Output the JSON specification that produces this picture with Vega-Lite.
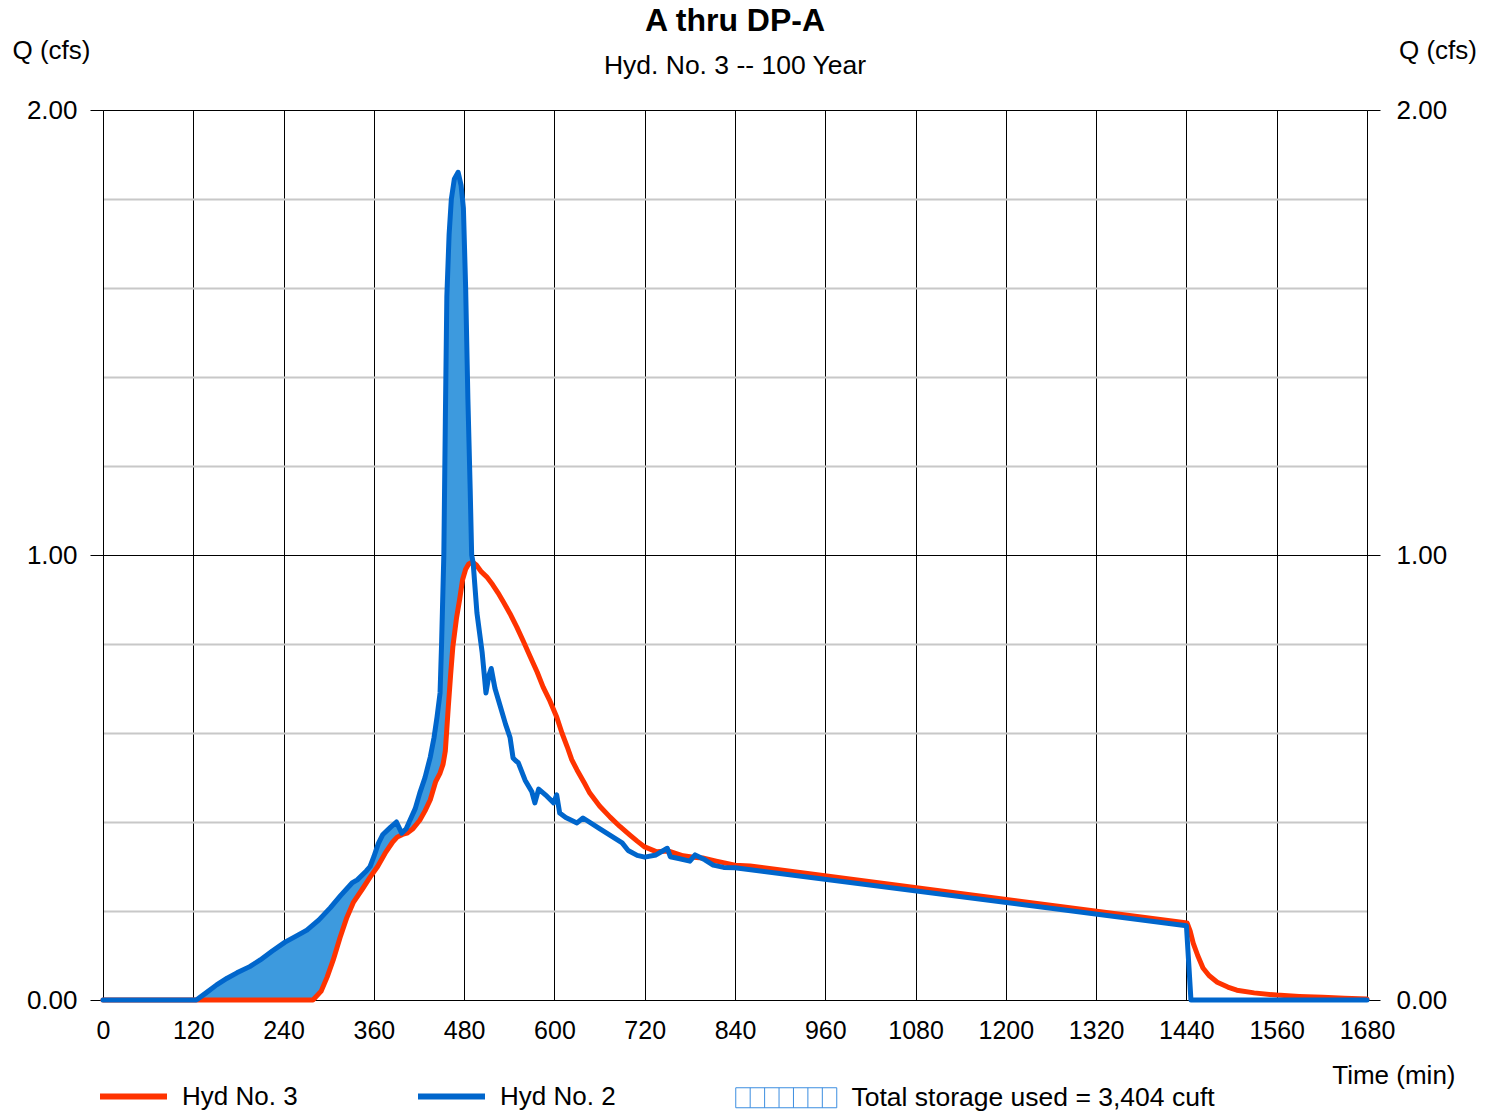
{
  "$schema": "https://vega.github.io/schema/vega-lite/v6.json",
  "width": 1264,
  "height": 890,
  "autosize": {"type": "none"},
  "padding": {"left": 103, "top": 110, "right": 127, "bottom": 112},
  "background": "white",
  "title": {
    "text": "A thru DP-A",
    "subtitle": "Hyd. No. 3 -- 100 Year",
    "anchor": "middle",
    "frame": "group",
    "font": "Liberation Sans",
    "fontSize": 32,
    "fontWeight": "bold",
    "color": "#000000",
    "subtitleFont": "Liberation Sans",
    "subtitleFontSize": 26.5,
    "subtitleColor": "#000000",
    "subtitlePadding": 15,
    "offset": -43
  },
  "datasets": {
    "hyd": [
      {"series": "Hyd No. 3", "t": 0, "q": 0},
      {"series": "Hyd No. 3", "t": 279, "q": 0},
      {"series": "Hyd No. 3", "t": 290, "q": 0.02},
      {"series": "Hyd No. 3", "t": 298, "q": 0.052},
      {"series": "Hyd No. 3", "t": 306, "q": 0.09},
      {"series": "Hyd No. 3", "t": 315, "q": 0.14},
      {"series": "Hyd No. 3", "t": 324, "q": 0.185},
      {"series": "Hyd No. 3", "t": 333, "q": 0.22},
      {"series": "Hyd No. 3", "t": 345, "q": 0.25},
      {"series": "Hyd No. 3", "t": 355, "q": 0.276},
      {"series": "Hyd No. 3", "t": 365, "q": 0.30},
      {"series": "Hyd No. 3", "t": 375, "q": 0.33},
      {"series": "Hyd No. 3", "t": 385, "q": 0.355},
      {"series": "Hyd No. 3", "t": 391, "q": 0.366},
      {"series": "Hyd No. 3", "t": 398, "q": 0.372},
      {"series": "Hyd No. 3", "t": 404, "q": 0.375},
      {"series": "Hyd No. 3", "t": 412, "q": 0.385},
      {"series": "Hyd No. 3", "t": 421, "q": 0.404},
      {"series": "Hyd No. 3", "t": 428, "q": 0.425},
      {"series": "Hyd No. 3", "t": 435, "q": 0.45},
      {"series": "Hyd No. 3", "t": 442, "q": 0.49},
      {"series": "Hyd No. 3", "t": 448, "q": 0.51},
      {"series": "Hyd No. 3", "t": 452, "q": 0.53},
      {"series": "Hyd No. 3", "t": 455, "q": 0.56},
      {"series": "Hyd No. 3", "t": 457, "q": 0.61},
      {"series": "Hyd No. 3", "t": 459, "q": 0.66},
      {"series": "Hyd No. 3", "t": 462, "q": 0.73},
      {"series": "Hyd No. 3", "t": 465, "q": 0.794},
      {"series": "Hyd No. 3", "t": 470, "q": 0.86},
      {"series": "Hyd No. 3", "t": 474, "q": 0.90},
      {"series": "Hyd No. 3", "t": 478, "q": 0.945},
      {"series": "Hyd No. 3", "t": 482, "q": 0.968},
      {"series": "Hyd No. 3", "t": 486, "q": 0.98},
      {"series": "Hyd No. 3", "t": 491, "q": 0.984},
      {"series": "Hyd No. 3", "t": 496, "q": 0.978},
      {"series": "Hyd No. 3", "t": 503, "q": 0.962},
      {"series": "Hyd No. 3", "t": 510, "q": 0.951},
      {"series": "Hyd No. 3", "t": 518, "q": 0.933},
      {"series": "Hyd No. 3", "t": 525, "q": 0.915},
      {"series": "Hyd No. 3", "t": 532, "q": 0.895},
      {"series": "Hyd No. 3", "t": 541, "q": 0.868},
      {"series": "Hyd No. 3", "t": 550, "q": 0.838},
      {"series": "Hyd No. 3", "t": 559, "q": 0.805},
      {"series": "Hyd No. 3", "t": 568, "q": 0.771},
      {"series": "Hyd No. 3", "t": 577, "q": 0.737},
      {"series": "Hyd No. 3", "t": 585, "q": 0.703},
      {"series": "Hyd No. 3", "t": 594, "q": 0.672},
      {"series": "Hyd No. 3", "t": 603, "q": 0.636},
      {"series": "Hyd No. 3", "t": 610, "q": 0.60},
      {"series": "Hyd No. 3", "t": 617, "q": 0.569},
      {"series": "Hyd No. 3", "t": 623, "q": 0.54},
      {"series": "Hyd No. 3", "t": 630, "q": 0.517},
      {"series": "Hyd No. 3", "t": 640, "q": 0.487},
      {"series": "Hyd No. 3", "t": 647, "q": 0.465},
      {"series": "Hyd No. 3", "t": 660, "q": 0.436},
      {"series": "Hyd No. 3", "t": 674, "q": 0.411},
      {"series": "Hyd No. 3", "t": 687, "q": 0.39},
      {"series": "Hyd No. 3", "t": 700, "q": 0.371},
      {"series": "Hyd No. 3", "t": 710, "q": 0.357},
      {"series": "Hyd No. 3", "t": 720, "q": 0.344},
      {"series": "Hyd No. 3", "t": 736, "q": 0.333},
      {"series": "Hyd No. 3", "t": 751, "q": 0.335},
      {"series": "Hyd No. 3", "t": 760, "q": 0.33},
      {"series": "Hyd No. 3", "t": 771, "q": 0.324},
      {"series": "Hyd No. 3", "t": 785, "q": 0.321},
      {"series": "Hyd No. 3", "t": 797, "q": 0.319},
      {"series": "Hyd No. 3", "t": 815, "q": 0.312},
      {"series": "Hyd No. 3", "t": 840, "q": 0.303},
      {"series": "Hyd No. 3", "t": 860, "q": 0.301},
      {"series": "Hyd No. 3", "t": 1441, "q": 0.173},
      {"series": "Hyd No. 3", "t": 1445, "q": 0.155},
      {"series": "Hyd No. 3", "t": 1449, "q": 0.128},
      {"series": "Hyd No. 3", "t": 1455, "q": 0.10},
      {"series": "Hyd No. 3", "t": 1462, "q": 0.072},
      {"series": "Hyd No. 3", "t": 1470, "q": 0.055},
      {"series": "Hyd No. 3", "t": 1481, "q": 0.04},
      {"series": "Hyd No. 3", "t": 1495, "q": 0.029},
      {"series": "Hyd No. 3", "t": 1507, "q": 0.022},
      {"series": "Hyd No. 3", "t": 1530, "q": 0.016},
      {"series": "Hyd No. 3", "t": 1560, "q": 0.011},
      {"series": "Hyd No. 3", "t": 1590, "q": 0.008},
      {"series": "Hyd No. 3", "t": 1621, "q": 0.006},
      {"series": "Hyd No. 3", "t": 1650, "q": 0.004},
      {"series": "Hyd No. 3", "t": 1680, "q": 0.002},
      {"series": "Hyd No. 2", "t": 0, "q": 0},
      {"series": "Hyd No. 2", "t": 120, "q": 0},
      {"series": "Hyd No. 2", "t": 124, "q": 0},
      {"series": "Hyd No. 2", "t": 137, "q": 0.016},
      {"series": "Hyd No. 2", "t": 151, "q": 0.034},
      {"series": "Hyd No. 2", "t": 165, "q": 0.049},
      {"series": "Hyd No. 2", "t": 178, "q": 0.061},
      {"series": "Hyd No. 2", "t": 195, "q": 0.075},
      {"series": "Hyd No. 2", "t": 209, "q": 0.09},
      {"series": "Hyd No. 2", "t": 225, "q": 0.11},
      {"series": "Hyd No. 2", "t": 242, "q": 0.13},
      {"series": "Hyd No. 2", "t": 256, "q": 0.143},
      {"series": "Hyd No. 2", "t": 271, "q": 0.157},
      {"series": "Hyd No. 2", "t": 287, "q": 0.18},
      {"series": "Hyd No. 2", "t": 302, "q": 0.207},
      {"series": "Hyd No. 2", "t": 316, "q": 0.235},
      {"series": "Hyd No. 2", "t": 331, "q": 0.263},
      {"series": "Hyd No. 2", "t": 338, "q": 0.27},
      {"series": "Hyd No. 2", "t": 350, "q": 0.29},
      {"series": "Hyd No. 2", "t": 355, "q": 0.30},
      {"series": "Hyd No. 2", "t": 360, "q": 0.322},
      {"series": "Hyd No. 2", "t": 366, "q": 0.352},
      {"series": "Hyd No. 2", "t": 372, "q": 0.372},
      {"series": "Hyd No. 2", "t": 382, "q": 0.388},
      {"series": "Hyd No. 2", "t": 390, "q": 0.40},
      {"series": "Hyd No. 2", "t": 397, "q": 0.375},
      {"series": "Hyd No. 2", "t": 403, "q": 0.385},
      {"series": "Hyd No. 2", "t": 408, "q": 0.404},
      {"series": "Hyd No. 2", "t": 415, "q": 0.43},
      {"series": "Hyd No. 2", "t": 421, "q": 0.465},
      {"series": "Hyd No. 2", "t": 428, "q": 0.50},
      {"series": "Hyd No. 2", "t": 435, "q": 0.546},
      {"series": "Hyd No. 2", "t": 440, "q": 0.59},
      {"series": "Hyd No. 2", "t": 444, "q": 0.636},
      {"series": "Hyd No. 2", "t": 448, "q": 0.69},
      {"series": "Hyd No. 2", "t": 450, "q": 0.80},
      {"series": "Hyd No. 2", "t": 453, "q": 1.00},
      {"series": "Hyd No. 2", "t": 455, "q": 1.30},
      {"series": "Hyd No. 2", "t": 457, "q": 1.58},
      {"series": "Hyd No. 2", "t": 460, "q": 1.72},
      {"series": "Hyd No. 2", "t": 463, "q": 1.80},
      {"series": "Hyd No. 2", "t": 467, "q": 1.845},
      {"series": "Hyd No. 2", "t": 472, "q": 1.86},
      {"series": "Hyd No. 2", "t": 476, "q": 1.83},
      {"series": "Hyd No. 2", "t": 479, "q": 1.78},
      {"series": "Hyd No. 2", "t": 482, "q": 1.60},
      {"series": "Hyd No. 2", "t": 485, "q": 1.35},
      {"series": "Hyd No. 2", "t": 488, "q": 1.15},
      {"series": "Hyd No. 2", "t": 490, "q": 1.00},
      {"series": "Hyd No. 2", "t": 492, "q": 0.982},
      {"series": "Hyd No. 2", "t": 497, "q": 0.87},
      {"series": "Hyd No. 2", "t": 504, "q": 0.78},
      {"series": "Hyd No. 2", "t": 509, "q": 0.69},
      {"series": "Hyd No. 2", "t": 513, "q": 0.73},
      {"series": "Hyd No. 2", "t": 516, "q": 0.745},
      {"series": "Hyd No. 2", "t": 521, "q": 0.70},
      {"series": "Hyd No. 2", "t": 528, "q": 0.66},
      {"series": "Hyd No. 2", "t": 535, "q": 0.62},
      {"series": "Hyd No. 2", "t": 541, "q": 0.59},
      {"series": "Hyd No. 2", "t": 545, "q": 0.544},
      {"series": "Hyd No. 2", "t": 549, "q": 0.537},
      {"series": "Hyd No. 2", "t": 552, "q": 0.533},
      {"series": "Hyd No. 2", "t": 561, "q": 0.494},
      {"series": "Hyd No. 2", "t": 570, "q": 0.468},
      {"series": "Hyd No. 2", "t": 574, "q": 0.443},
      {"series": "Hyd No. 2", "t": 579, "q": 0.474},
      {"series": "Hyd No. 2", "t": 590, "q": 0.458},
      {"series": "Hyd No. 2", "t": 599, "q": 0.443},
      {"series": "Hyd No. 2", "t": 603, "q": 0.461},
      {"series": "Hyd No. 2", "t": 607, "q": 0.42},
      {"series": "Hyd No. 2", "t": 615, "q": 0.41},
      {"series": "Hyd No. 2", "t": 630, "q": 0.398},
      {"series": "Hyd No. 2", "t": 638, "q": 0.409},
      {"series": "Hyd No. 2", "t": 660, "q": 0.385},
      {"series": "Hyd No. 2", "t": 690, "q": 0.353},
      {"series": "Hyd No. 2", "t": 698, "q": 0.336},
      {"series": "Hyd No. 2", "t": 710, "q": 0.325},
      {"series": "Hyd No. 2", "t": 720, "q": 0.321},
      {"series": "Hyd No. 2", "t": 735, "q": 0.326},
      {"series": "Hyd No. 2", "t": 750, "q": 0.341},
      {"series": "Hyd No. 2", "t": 754, "q": 0.322},
      {"series": "Hyd No. 2", "t": 765, "q": 0.318},
      {"series": "Hyd No. 2", "t": 780, "q": 0.312},
      {"series": "Hyd No. 2", "t": 787, "q": 0.326},
      {"series": "Hyd No. 2", "t": 800, "q": 0.315},
      {"series": "Hyd No. 2", "t": 811, "q": 0.303},
      {"series": "Hyd No. 2", "t": 825, "q": 0.298},
      {"series": "Hyd No. 2", "t": 840, "q": 0.297},
      {"series": "Hyd No. 2", "t": 1440, "q": 0.167},
      {"series": "Hyd No. 2", "t": 1446, "q": 0},
      {"series": "Hyd No. 2", "t": 1680, "q": 0}
    ],
    "storage": [
      {"t": 124, "hi": 0, "lo": 0},
      {"t": 137, "hi": 0.016, "lo": 0},
      {"t": 151, "hi": 0.034, "lo": 0},
      {"t": 165, "hi": 0.049, "lo": 0},
      {"t": 178, "hi": 0.061, "lo": 0},
      {"t": 195, "hi": 0.075, "lo": 0},
      {"t": 209, "hi": 0.09, "lo": 0},
      {"t": 225, "hi": 0.11, "lo": 0},
      {"t": 242, "hi": 0.13, "lo": 0},
      {"t": 256, "hi": 0.143, "lo": 0},
      {"t": 271, "hi": 0.157, "lo": 0},
      {"t": 279, "hi": 0.168, "lo": 0},
      {"t": 287, "hi": 0.18, "lo": 0.015},
      {"t": 290, "hi": 0.185, "lo": 0.02},
      {"t": 298, "hi": 0.199, "lo": 0.052},
      {"t": 302, "hi": 0.207, "lo": 0.07},
      {"t": 306, "hi": 0.214, "lo": 0.09},
      {"t": 315, "hi": 0.233, "lo": 0.14},
      {"t": 324, "hi": 0.251, "lo": 0.185},
      {"t": 331, "hi": 0.263, "lo": 0.212},
      {"t": 333, "hi": 0.265, "lo": 0.22},
      {"t": 338, "hi": 0.27, "lo": 0.233},
      {"t": 345, "hi": 0.282, "lo": 0.25},
      {"t": 350, "hi": 0.29, "lo": 0.263},
      {"t": 355, "hi": 0.30, "lo": 0.276},
      {"t": 360, "hi": 0.322, "lo": 0.288},
      {"t": 365, "hi": 0.347, "lo": 0.30},
      {"t": 366, "hi": 0.352, "lo": 0.303},
      {"t": 372, "hi": 0.372, "lo": 0.321},
      {"t": 375, "hi": 0.377, "lo": 0.33},
      {"t": 382, "hi": 0.388, "lo": 0.348},
      {"t": 385, "hi": 0.393, "lo": 0.355},
      {"t": 390, "hi": 0.40, "lo": 0.364},
      {"t": 391, "hi": 0.396, "lo": 0.366},
      {"t": 397, "hi": 0.375, "lo": 0.371},
      {"t": 398, "hi": 0.377, "lo": 0.372},
      {"t": 403, "hi": 0.385, "lo": 0.375},
      {"t": 404, "hi": 0.389, "lo": 0.375},
      {"t": 408, "hi": 0.404, "lo": 0.38},
      {"t": 412, "hi": 0.419, "lo": 0.385},
      {"t": 415, "hi": 0.43, "lo": 0.39},
      {"t": 421, "hi": 0.465, "lo": 0.404},
      {"t": 428, "hi": 0.50, "lo": 0.425},
      {"t": 435, "hi": 0.546, "lo": 0.45},
      {"t": 440, "hi": 0.59, "lo": 0.478},
      {"t": 442, "hi": 0.613, "lo": 0.49},
      {"t": 444, "hi": 0.636, "lo": 0.497},
      {"t": 448, "hi": 0.69, "lo": 0.51},
      {"t": 450, "hi": 0.80, "lo": 0.52},
      {"t": 452, "hi": 0.93, "lo": 0.53},
      {"t": 453, "hi": 1.00, "lo": 0.54},
      {"t": 455, "hi": 1.30, "lo": 0.56},
      {"t": 457, "hi": 1.58, "lo": 0.61},
      {"t": 459, "hi": 1.67, "lo": 0.66},
      {"t": 460, "hi": 1.72, "lo": 0.683},
      {"t": 462, "hi": 1.773, "lo": 0.73},
      {"t": 463, "hi": 1.80, "lo": 0.751},
      {"t": 465, "hi": 1.822, "lo": 0.794},
      {"t": 467, "hi": 1.845, "lo": 0.82},
      {"t": 470, "hi": 1.854, "lo": 0.86},
      {"t": 472, "hi": 1.86, "lo": 0.88},
      {"t": 474, "hi": 1.845, "lo": 0.90},
      {"t": 476, "hi": 1.83, "lo": 0.922},
      {"t": 478, "hi": 1.797, "lo": 0.945},
      {"t": 479, "hi": 1.78, "lo": 0.951},
      {"t": 482, "hi": 1.60, "lo": 0.968},
      {"t": 485, "hi": 1.35, "lo": 0.977},
      {"t": 486, "hi": 1.283, "lo": 0.98},
      {"t": 488, "hi": 1.15, "lo": 0.982},
      {"t": 490, "hi": 1.00, "lo": 0.983},
      {"t": 491, "hi": 0.991, "lo": 0.984},
      {"t": 492, "hi": 0.982, "lo": 0.982}
    ]
  },
  "layer": [
    {
      "data": {"name": "storage"},
      "mark": {"type": "area", "opacity": 1, "interpolate": "linear"},
      "encoding": {
        "x": {
          "field": "t", "type": "quantitative",
          "scale": {"domain": [0, 1680], "nice": false, "zero": false},
          "axis": {
            "values": [0, 120, 240, 360, 480, 600, 720, 840, 960, 1080, 1200, 1320, 1440, 1560, 1680],
            "format": "d",
            "grid": true, "gridColor": "#000000", "gridWidth": 1, "gridOpacity": 1,
            "ticks": false, "domain": true, "domainColor": "#000000", "domainWidth": 1,
            "labelFont": "Liberation Sans", "labelFontSize": 25, "labelColor": "#000000",
            "labelPadding": 18, "labelFlush": false, "labelOverlap": false,
            "title": "Time (min)", "titleFont": "Liberation Sans", "titleFontSize": 26,
            "titleFontWeight": "normal", "titleColor": "#000000",
            "titleX": 1352, "titleY": 75, "titleAlign": "right", "titleBaseline": "middle"
          }
        },
        "y": {
          "field": "hi", "type": "quantitative",
          "scale": {"domain": [0, 2], "nice": false},
          "axis": {
            "orient": "left",
            "values": [0, 0.2, 0.4, 0.6, 0.8, 1, 1.2, 1.4, 1.6, 1.8, 2],
            "grid": true,
            "gridColor": {"condition": {"test": "datum.value == 0 || datum.value == 1 || datum.value == 2", "value": "#000000"}, "value": "#c8c8c8"},
            "gridWidth": {"condition": {"test": "datum.value == 0 || datum.value == 1 || datum.value == 2", "value": 1}, "value": 2},
            "gridOpacity": 1,
            "ticks": true, "tickSize": 13, "tickColor": "#000000",
            "tickOpacity": {"condition": {"test": "datum.value == 0 || datum.value == 1 || datum.value == 2", "value": 1}, "value": 0},
            "labelExpr": "(datum.value == 0 || datum.value == 1 || datum.value == 2) ? format(datum.value, '.2f') : ''",
            "labelFont": "Liberation Sans", "labelFontSize": 26, "labelColor": "#000000",
            "labelPadding": 13, "labelOverlap": false, "labelFlush": false, "labelBaseline": "middle",
            "domain": true, "domainColor": "#000000",
            "title": "Q (cfs)", "titleFont": "Liberation Sans", "titleFontSize": 26,
            "titleFontWeight": "normal", "titleColor": "#000000", "titleAngle": 0,
            "titleX": -52, "titleY": -60, "titleAlign": "center", "titleBaseline": "middle"
          }
        },
        "y2": {"field": "lo"},
        "fill": {
          "datum": "Total storage used = 3,404 cuft", "type": "nominal",
          "scale": {"range": ["#3d9ade"]},
          "legend": {
            "orient": "none", "legendX": 670, "legendY": 974.5, "title": null, "padding": 0,
            "symbolType": "M-5.05,-1H5.05 M-5.05,1H5.05 M-5.05,-1V1 M5.05,-1V1 M-3.607,-1V1 M-2.164,-1V1 M-0.721,-1V1 M0.721,-1V1 M2.164,-1V1 M3.607,-1V1",
            "symbolSize": 400, "symbolStrokeWidth": 1,
            "symbolStrokeColor": "#3c8ee0",
            "labelFont": "Liberation Sans", "labelFontSize": 26.5, "labelColor": "#000000", "labelOffset": 52,
            "labelLimit": 600
          }
        }
      }
    },
    {
      "data": {"name": "hyd"},
      "mark": {"type": "line", "strokeWidth": 5, "strokeJoin": "round", "strokeCap": "round", "interpolate": "linear"},
      "encoding": {
        "x": {"field": "t", "type": "quantitative", "scale": {"domain": [0, 1680], "nice": false, "zero": false}},
        "y": {
          "field": "q", "type": "quantitative",
          "scale": {"domain": [0, 2], "nice": false},
          "axis": {
            "orient": "right",
            "values": [0, 1, 2], "format": ".2f",
            "grid": false,
            "ticks": true, "tickSize": 13, "tickColor": "#000000",
            "labelFont": "Liberation Sans", "labelFontSize": 26, "labelColor": "#000000",
            "labelPadding": 16, "labelOverlap": false, "labelFlush": false, "labelBaseline": "middle",
            "domain": true, "domainColor": "#000000",
            "title": "Q (cfs)", "titleFont": "Liberation Sans", "titleFontSize": 26,
            "titleFontWeight": "normal", "titleColor": "#000000", "titleAngle": 0,
            "titleX": 70.5, "titleY": -60, "titleAlign": "center", "titleBaseline": "middle"
          }
        },
        "stroke": {
          "field": "series", "type": "nominal",
          "scale": {"domain": ["Hyd No. 3", "Hyd No. 2"], "range": ["#ff3300", "#0066cc"]},
          "legend": {
            "orient": "none", "legendX": 17.5, "legendY": 973.5, "direction": "horizontal",
            "title": null, "padding": 0,
            "symbolType": "M-5,0H5", "symbolSize": 179.56, "symbolStrokeWidth": 6,
            "labelFont": "Liberation Sans", "labelFontSize": 26, "labelColor": "#000000",
            "labelOffset": 35.5, "columnPadding": 107
          }
        }
      }
    }
  ],
  "resolve": {"axis": {"y": "independent"}},
  "config": {
    "view": {"stroke": null},
    "font": "Liberation Sans"
  }
}
